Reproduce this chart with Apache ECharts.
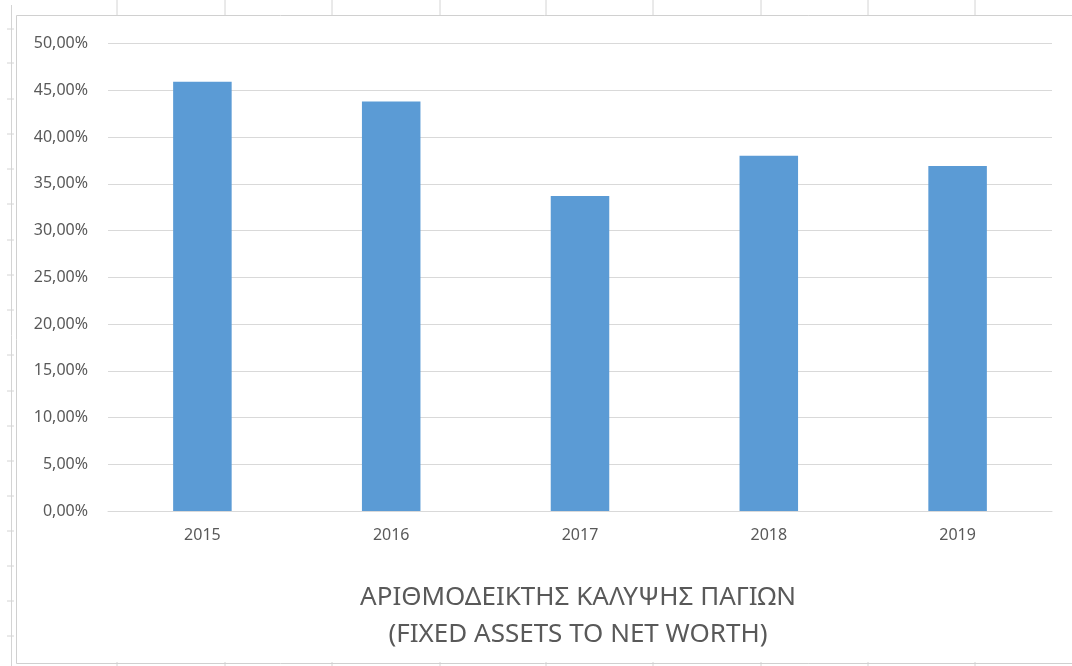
<!DOCTYPE html>
<html>
<head>
<meta charset="utf-8">
<title>Fixed assets to net worth</title>
<script src="https://cdn.jsdelivr.net/npm/echarts@6/dist/echarts.min.js"></script>
<style>
  html, body { margin: 0; padding: 0; background: #ffffff; }
  #chart { width: 1072px; height: 666px; }
</style>
</head>
<body>
<div id="chart"></div>
<script>
// Years on the category axis
const years = ['2015', '2016', '2017', '2018', '2019'];
// Fixed assets to net worth ratio, in percent
const ratioValues = [45.9, 43.8, 33.7, 38.0, 36.9];
// Value axis range and step, in percent
const axisMin = 0;
const axisMax = 50;
const axisStep = 5;
// Chart title lines
const titleLines = ['ΑΡΙΘΜΟΔΕΙΚΤΗΣ ΚΑΛΥΨΗΣ ΠΑΓΙΩΝ', '(FIXED ASSETS TO NET WORTH)'];

const GRID_COLOR = '#d9d9d9';
const TEXT_COLOR = '#595959';
const SHEET_LINE = '#d4d4d4';

function pctLabel(v) {
  return v.toFixed(2).replace('.', ',') + '%';
}

// Worksheet column / row marks around the chart frame
const sheetMarks = [];
const colXs = [117, 225, 332, 440, 546, 653, 761, 868, 975];
colXs.forEach(x => {
  sheetMarks.push({ type: 'line', shape: { x1: x, y1: 0, x2: x, y2: 15 }, style: { stroke: SHEET_LINE, lineWidth: 1 }, silent: true });
  sheetMarks.push({ type: 'line', shape: { x1: x, y1: 662, x2: x, y2: 666 }, style: { stroke: SHEET_LINE, lineWidth: 1 }, silent: true });
});
const rowYs = [29, 63, 99, 134, 169, 204, 240, 275, 310, 355, 391, 426, 461, 496, 531, 566, 601, 636];
rowYs.forEach(y => {
  sheetMarks.push({ type: 'line', shape: { x1: 7, y1: y, x2: 14, y2: y }, style: { stroke: SHEET_LINE, lineWidth: 1 }, silent: true });
});
// Sheet edge line and chart frame
sheetMarks.push({ type: 'line', shape: { x1: 11.5, y1: 5, x2: 11.5, y2: 666 }, style: { stroke: SHEET_LINE, lineWidth: 1 }, silent: true });
sheetMarks.push({ type: 'polyline', shape: { points: [[1072, 15.5], [16.5, 15.5], [16.5, 663.5], [1072, 663.5]] }, style: { stroke: '#d0d0d0', lineWidth: 1, fill: null }, silent: true });

const chart = echarts.init(document.getElementById('chart'), null, { renderer: 'canvas' });

chart.setOption({
  backgroundColor: '#ffffff',
  animation: false,
  textStyle: { fontFamily: 'Noto Sans' },
  title: {
    text: titleLines.join('\n'),
    left: 573,
    top: 574,
    textAlign: 'center',
    textStyle: {
      fontFamily: 'Noto Sans',
      fontSize: 26,
      fontWeight: 'normal',
      color: TEXT_COLOR,
      lineHeight: 37
    }
  },
  grid: {
    left: 108,
    right: 20,
    top: 43.5,
    bottom: 155,
    containLabel: false
  },
  xAxis: {
    type: 'category',
    data: years,
    axisLine: { show: true, lineStyle: { color: GRID_COLOR, width: 1 } },
    axisTick: { show: false },
    axisLabel: { color: TEXT_COLOR, fontSize: 16, margin: 16, fontFamily: 'Noto Sans' },
    splitLine: { show: false }
  },
  yAxis: {
    type: 'value',
    min: axisMin,
    max: axisMax,
    interval: axisStep,
    axisLine: { show: false },
    axisTick: { show: false },
    axisLabel: {
      color: TEXT_COLOR,
      fontSize: 16,
      margin: 20,
      fontFamily: 'Noto Sans',
      formatter: pctLabel
    },
    splitLine: { show: true, lineStyle: { color: GRID_COLOR, width: 1 } }
  },
  series: [{
    type: 'bar',
    data: ratioValues,
    barWidth: '31%',
    itemStyle: { color: '#5b9bd5' },
    label: { show: false }
  }],
  graphic: sheetMarks
});
</script>
</body>
</html>
